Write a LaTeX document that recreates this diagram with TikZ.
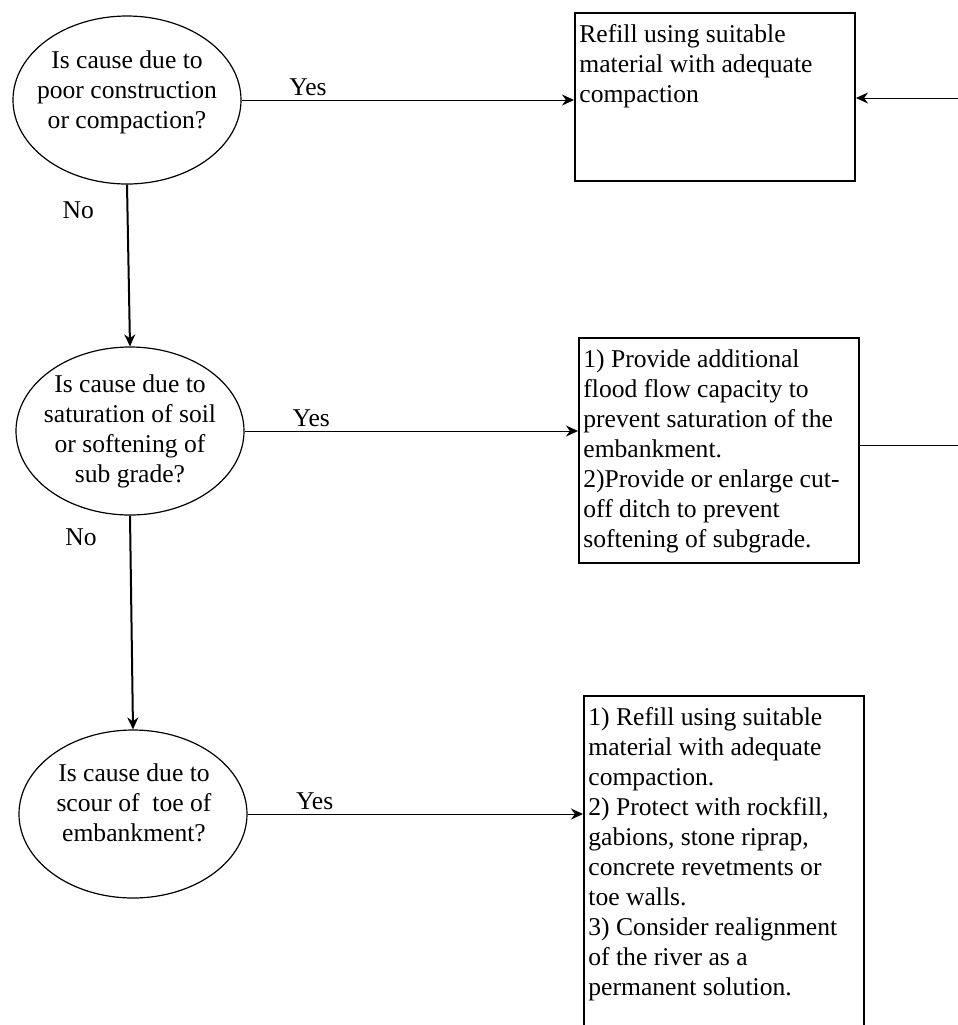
\documentclass[tikz,border=0pt]{standalone}
\usepackage{fontspec}
\setmainfont{Liberation Serif}
\usetikzlibrary{calc}
\usetikzlibrary{positioning}
\usetikzlibrary{shapes.geometric, arrows.meta}
\tikzstyle{question} = [ellipse,
minimum width=114pt,
minimum height=84pt,
inner sep=0pt,
draw=black,
line width=0.6pt]
\tikzstyle{action} = [rectangle, anchor=north west,
minimum width=140pt,
inner sep=0pt,
draw=black,
line width=1pt]
\tikzstyle{arrow} = [line width=0.5pt,-{Stealth[length=6pt,width=5.5pt]}]

\begin{document}
\begin{tikzpicture}[x=0.5pt, y=-0.5pt,
    every node/.style={font=\fontsize{12.8}{15}\selectfont},
    qtext/.style={align=center, inner sep=0pt},
    atext/.style={align=left, anchor=north west, inner xsep=2.5pt, inner ysep=6pt},
    ans/.style={above, inner sep=2pt},
    no/.style={left=13pt}
]
    \useasboundingbox (0,0) rectangle (958,1025);

    \node[question] (q1) at (127,100) {};
    \node[question] (q2) at (130,431) {};
    \node[question] (q3) at (133,814) {};
    \node[qtext] (q1t) at (127,92) {Is cause due to\\poor construction\\or compaction?};
    \node[qtext] (q2t) at (q2) {Is cause due to\\saturation of soil\\or softening of\\sub grade?};
    \node[qtext] (q3t) at (134,803) {Is cause due to\\scour of~ toe of\\embankment?};

    \node[action, minimum height=84pt] (a1) at (574,12) {};
    \node[action, minimum height=112.5pt] (a2) at (578,337) {};
    \node[action, minimum height=175pt] (a3) at (583,695) {};
    \node[atext] (a1t) at (a1.north west) {Refill using suitable\\material with adequate\\compaction};
    \node[atext] (a2t) at (a2.north west) {1) Provide additional\\flood flow capacity to\\prevent saturation of the\\embankment.\\2)Provide or enlarge cut-\\off ditch to prevent\\softening of subgrade.};
    \node[atext] (a3t) at (a3.north west) {1) Refill using suitable\\material with adequate\\compaction.\\2) Protect with rockfill,\\gabions, stone riprap,\\concrete revetments or\\toe walls.\\3) Consider realignment\\of the river as a\\permanent solution.};

    % lines leaving the page on the right
    \coordinate (r1) at (965,98);
    \coordinate (r2) at (965,445);

    \draw[arrow] (q1.east) -- (q1.east -| a1.west) node[ans, pos=0.2] {Yes};
    \draw[arrow] (q2.east) -- (q2.east -| a2.west) node[ans, pos=0.2] {Yes};
    \draw[arrow] (q3.east) -- (q3.east -| a3.west) node[ans, pos=0.2] {Yes};
    \draw[arrow, line width=1pt] (q1.south) -- (q2.north) node[no, pos=0.16] {No};
    \draw[arrow, line width=1pt] (q2.south) -- (q3.north) node[no, pos=0.1] {No};
    \draw[arrow] (r1) -- (r1 -| a1.east);
    \draw[line width=0.5pt] (a2.east |- r2) -- (r2);
\end{tikzpicture}
\end{document}
